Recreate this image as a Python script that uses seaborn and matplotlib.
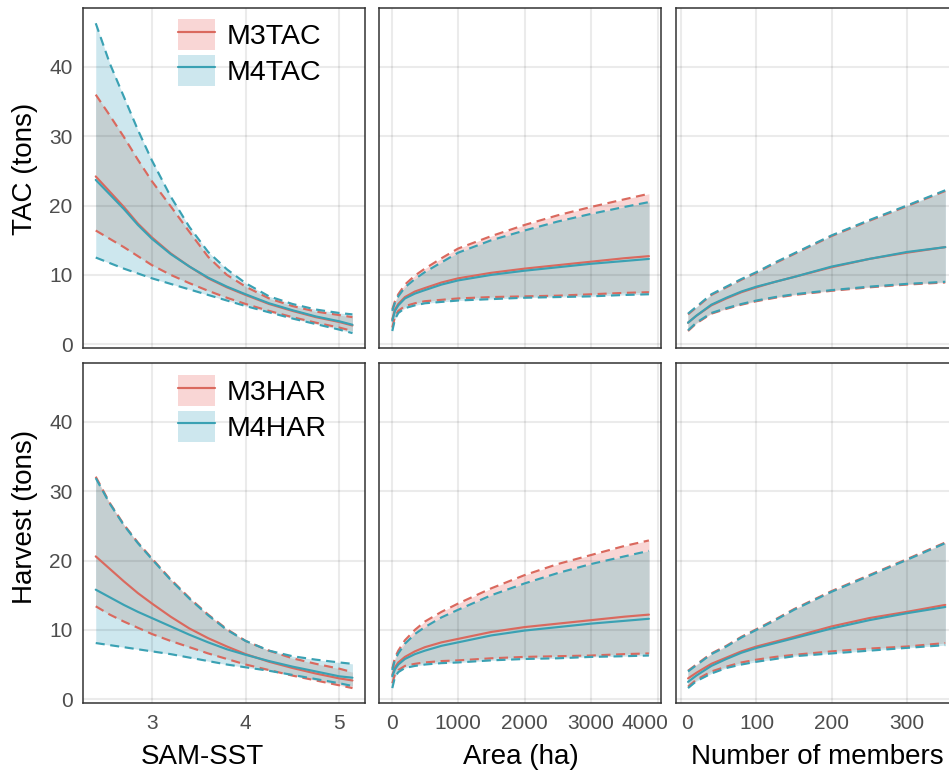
import numpy as np
import pandas as pd
import matplotlib
matplotlib.use("Agg")
import matplotlib.pyplot as plt
import matplotlib.transforms as mtransforms
import seaborn as sns
from matplotlib.patches import Patch
from matplotlib.lines import Line2D
from matplotlib.legend_handler import HandlerTuple

sns.set_theme(style="white")
plt.rcParams['font.family'] = ['Liberation Sans', 'DejaVu Sans']

# ---------------- data ----------------
sst_x = [2.40, 2.55, 2.70, 2.85, 3.00, 3.20, 3.40, 3.60, 3.80, 4.00, 4.25, 4.50, 4.75, 5.00, 5.14]
area_x = [10, 50, 100, 200, 350, 500, 750, 1000, 1500, 2000, 2500, 3000, 3500, 3870]
memb_x = [9, 20, 40, 60, 80, 100, 125, 150, 200, 250, 300, 351]

# TAC vs SAM-SST
tac_sst_m3_mean = [24.2, 22.0, 19.8, 17.4, 15.4, 13.1, 11.2, 9.5, 8.2, 7.1, 5.8, 4.8, 3.9, 3.2, 2.7]
tac_sst_m3_lo = [16.4, 15.2, 14.0, 12.7, 11.4, 10.0, 8.8, 7.7, 6.7, 5.8, 4.8, 3.9, 3.1, 2.4, 1.9]
tac_sst_m3_hi = [36.0, 33.0, 29.9, 26.6, 23.5, 19.9, 16.2, 12.6, 10.0, 8.3, 6.6, 5.5, 4.7, 4.2, 3.9]
tac_sst_m4_mean = [23.7, 21.6, 19.5, 17.2, 15.2, 13.0, 11.2, 9.6, 8.3, 7.2, 5.9, 4.9, 4.0, 3.3, 2.8]
tac_sst_m4_lo = [12.5, 11.7, 10.9, 10.2, 9.5, 8.7, 7.9, 7.1, 6.3, 5.5, 4.6, 3.7, 2.9, 2.1, 1.6]
tac_sst_m4_hi = [46.3, 40.5, 35.7, 30.9, 26.5, 21.3, 16.9, 13.3, 10.8, 8.8, 6.9, 5.8, 5.0, 4.5, 4.3]

# Harvest vs SAM-SST
har_sst_m3_mean = [20.6, 18.8, 17.0, 15.3, 13.8, 11.9, 10.2, 8.8, 7.6, 6.5, 5.4, 4.5, 3.7, 3.0, 2.7]
har_sst_m3_lo = [13.4, 12.2, 11.2, 10.3, 9.4, 8.4, 7.5, 6.6, 5.8, 5.0, 4.2, 3.4, 2.7, 2.0, 1.6]
har_sst_m3_hi = [32.1, 28.3, 25.2, 22.6, 20.3, 17.3, 14.6, 12.2, 10.1, 8.4, 7.0, 5.9, 5.1, 4.4, 3.9]
har_sst_m4_mean = [15.8, 14.7, 13.6, 12.6, 11.7, 10.5, 9.3, 8.2, 7.2, 6.4, 5.5, 4.7, 4.0, 3.3, 3.1]
har_sst_m4_lo = [8.1, 7.8, 7.5, 7.2, 6.9, 6.5, 6.0, 5.5, 5.0, 4.6, 4.1, 3.5, 2.9, 2.3, 1.9]
har_sst_m4_hi = [31.9, 28.2, 25.1, 22.5, 20.2, 17.2, 14.5, 12.1, 10.0, 8.4, 7.0, 6.2, 5.7, 5.3, 5.1]

# TAC vs Area
tac_area_m3_mean = [3.6, 5.0, 5.8, 6.8, 7.6, 8.1, 8.9, 9.5, 10.3, 10.9, 11.4, 11.9, 12.4, 12.7]
tac_area_m3_lo = [2.4, 4.0, 4.8, 5.5, 5.9, 6.2, 6.4, 6.6, 6.8, 6.9, 7.0, 7.2, 7.4, 7.5]
tac_area_m3_hi = [5.0, 6.2, 7.2, 8.6, 9.9, 10.9, 12.4, 13.8, 15.6, 17.2, 18.6, 19.8, 20.9, 21.7]
tac_area_m4_mean = [3.4, 4.8, 5.6, 6.6, 7.3, 7.8, 8.6, 9.2, 10.0, 10.6, 11.1, 11.6, 12.0, 12.3]
tac_area_m4_lo = [1.9, 3.6, 4.5, 5.2, 5.6, 5.9, 6.1, 6.3, 6.5, 6.7, 6.8, 6.9, 7.1, 7.2]
tac_area_m4_hi = [4.8, 6.0, 6.9, 8.2, 9.4, 10.4, 11.8, 13.2, 15.0, 16.4, 17.7, 18.8, 19.8, 20.5]

# Harvest vs Area
har_area_m3_mean = [3.5, 4.6, 5.3, 6.1, 6.9, 7.5, 8.2, 8.7, 9.7, 10.4, 10.9, 11.4, 11.9, 12.2]
har_area_m3_lo = [2.3, 3.6, 4.2, 4.8, 5.1, 5.3, 5.5, 5.6, 5.9, 6.1, 6.2, 6.3, 6.5, 6.6]
har_area_m3_hi = [4.4, 6.0, 7.0, 8.5, 10.0, 11.2, 12.6, 13.8, 16.0, 17.9, 19.5, 20.8, 22.1, 22.9]
har_area_m4_mean = [3.3, 4.3, 5.0, 5.8, 6.5, 7.0, 7.7, 8.2, 9.2, 9.9, 10.4, 10.9, 11.3, 11.6]
har_area_m4_lo = [1.6, 3.2, 3.9, 4.5, 4.8, 5.0, 5.2, 5.3, 5.6, 5.8, 5.9, 6.1, 6.2, 6.3]
har_area_m4_hi = [4.2, 5.7, 6.6, 8.0, 9.4, 10.4, 11.8, 12.9, 15.0, 16.7, 18.2, 19.5, 20.6, 21.4]

# TAC vs Number of members
tac_memb_m3_mean = [3.1, 4.1, 5.6, 6.6, 7.5, 8.2, 9.0, 9.7, 11.1, 12.3, 13.2, 14.0]
tac_memb_m3_lo = [1.9, 3.0, 4.4, 5.1, 5.7, 6.2, 6.7, 7.1, 7.7, 8.2, 8.6, 8.9]
tac_memb_m3_hi = [4.3, 5.3, 7.1, 8.2, 9.3, 10.3, 11.7, 13.0, 15.6, 17.8, 19.9, 22.1]
tac_memb_m4_mean = [3.1, 4.1, 5.7, 6.7, 7.6, 8.3, 9.0, 9.7, 11.2, 12.3, 13.3, 14.0]
tac_memb_m4_lo = [2.0, 3.1, 4.5, 5.2, 5.8, 6.3, 6.8, 7.2, 7.8, 8.3, 8.7, 9.0]
tac_memb_m4_hi = [4.4, 5.4, 7.2, 8.3, 9.4, 10.4, 11.8, 13.1, 15.7, 17.9, 20.0, 22.2]

# Harvest vs Number of members
har_memb_m3_mean = [3.0, 3.8, 5.1, 6.0, 6.9, 7.6, 8.3, 9.0, 10.5, 11.7, 12.6, 13.6]
har_memb_m3_lo = [1.8, 2.8, 4.0, 4.7, 5.3, 5.7, 6.1, 6.4, 6.9, 7.3, 7.6, 8.1]
har_memb_m3_hi = [4.1, 5.0, 6.6, 7.7, 9.0, 10.1, 11.5, 13.0, 15.6, 17.9, 20.2, 22.6]
har_memb_m4_mean = [2.5, 3.4, 4.8, 5.8, 6.7, 7.4, 8.1, 8.8, 10.2, 11.4, 12.4, 13.3]
har_memb_m4_lo = [1.6, 2.6, 3.7, 4.5, 5.0, 5.4, 5.8, 6.2, 6.6, 7.0, 7.4, 7.8]
har_memb_m4_hi = [4.0, 4.9, 6.5, 7.6, 8.9, 10.0, 11.4, 12.9, 15.5, 17.8, 20.1, 22.5]

row_labels = ["TAC (tons)", "Harvest (tons)"]
col_labels = ["SAM-SST", "Area (ha)", "Number of members"]
legend_labels = [["M3TAC", "M4TAC"], ["M3HAR", "M4HAR"]]
y_ticks = [0, 10, 20, 30, 40]
x_ticks = [[3, 4, 5], [0, 1000, 2000, 3000, 4000], [0, 100, 200, 300]]
x_limits = [(2.264, 5.274), (-190, 4052), (-7, 368)]
y_limits = (-0.55, 48.5)

# ---------------- styling ----------------
RED_LINE, BLUE_LINE = "#DA695E", "#3AA1B3"
RED_FILL, BLUE_FILL, BOTH_FILL = "#F9D6D5", "#CDE7EE", "#C4CFD1"
DARK = "#333333"
DASH = (0, (4.2, 2.6))
LW = 1.55

panels = [
    [(sst_x, tac_sst_m3_mean, tac_sst_m3_lo, tac_sst_m3_hi, tac_sst_m4_mean, tac_sst_m4_lo, tac_sst_m4_hi),
     (area_x, tac_area_m3_mean, tac_area_m3_lo, tac_area_m3_hi, tac_area_m4_mean, tac_area_m4_lo, tac_area_m4_hi),
     (memb_x, tac_memb_m3_mean, tac_memb_m3_lo, tac_memb_m3_hi, tac_memb_m4_mean, tac_memb_m4_lo, tac_memb_m4_hi)],
    [(sst_x, har_sst_m3_mean, har_sst_m3_lo, har_sst_m3_hi, har_sst_m4_mean, har_sst_m4_lo, har_sst_m4_hi),
     (area_x, har_area_m3_mean, har_area_m3_lo, har_area_m3_hi, har_area_m4_mean, har_area_m4_lo, har_area_m4_hi),
     (memb_x, har_memb_m3_mean, har_memb_m3_lo, har_memb_m3_hi, har_memb_m4_mean, har_memb_m4_lo, har_memb_m4_hi)],
]

W, H = 949, 774
fig = plt.figure(figsize=(W / 100, H / 100), dpi=100)
fig.patch.set_facecolor("white")

col_left = [83, 379, 676]
col_w = 282
row_top = [8, 363]
row_h = 340

for r in range(2):
    for c in range(3):
        l, t = col_left[c], row_top[r]
        ax = fig.add_axes([l / W, 1 - (t + row_h) / H, col_w / W, row_h / H])
        ax.set_facecolor("white")
        x, m3, l3, h3, m4, l4, h4 = [np.asarray(a, dtype=float) for a in panels[r][c]]

        ax.fill_between(x, l3, h3, color=RED_FILL, lw=0, zorder=1)
        ax.fill_between(x, l4, h4, color=BLUE_FILL, lw=0, zorder=1)
        lo = np.maximum(l3, l4)
        hi = np.minimum(h3, h4)
        ax.fill_between(x, lo, hi, where=hi > lo, interpolate=True, color=BOTH_FILL, lw=0, zorder=1.1)

        for mean, low, high, col in ((m3, l3, h3, RED_LINE), (m4, l4, h4, BLUE_LINE)):
            df = pd.DataFrame({"x": x, "mean": mean, "lo": low, "hi": high})
            sns.lineplot(data=df, x="x", y="mean", color=col, lw=LW, ax=ax, zorder=2)
            sns.lineplot(data=df, x="x", y="lo", color=col, lw=LW, ls=DASH, ax=ax, zorder=2)
            sns.lineplot(data=df, x="x", y="hi", color=col, lw=LW, ls=DASH, ax=ax, zorder=2)

        ax.set_xlim(*x_limits[c])
        ax.set_ylim(*y_limits)
        ax.set_xticks(x_ticks[c])
        ax.set_yticks(y_ticks)
        ax.set_xlabel("")
        ax.set_ylabel("")
        ax.set_axisbelow("line")
        ax.grid(True, color="black", alpha=0.08, lw=1.5)
        for s in ax.spines.values():
            s.set_color(DARK)
            s.set_linewidth(1.1)
            s.set_zorder(3)
        ax.tick_params(axis="both", colors=DARK, labelcolor="#4D4D4D", labelsize=15,
                       length=5.5, width=1.1, direction="out")
        ax.tick_params(axis="x", pad=2.5)
        ax.tick_params(axis="y", pad=2.0)
        if r == 0:
            ax.tick_params(axis="x", bottom=False, labelbottom=False)
        if c > 0:
            ax.tick_params(axis="y", left=False, labelleft=False)

        # edge tick labels nudged as in the reference
        if r == 1 and c == 1:
            lab = ax.xaxis.get_major_ticks()[-1].label1
            lab.set_transform(lab.get_transform() + mtransforms.ScaledTranslation(-12.5 / 100, 0, fig.dpi_scale_trans))
        if r == 1 and c == 2:
            lab = ax.xaxis.get_major_ticks()[0].label1
            lab.set_transform(lab.get_transform() + mtransforms.ScaledTranslation(5.5 / 100, 0, fig.dpi_scale_trans))

        if c == 0:
            handles = [(Patch(facecolor=RED_FILL, edgecolor="none"), Line2D([], [], color=RED_LINE, lw=LW)),
                       (Patch(facecolor=BLUE_FILL, edgecolor="none"), Line2D([], [], color=BLUE_LINE, lw=LW))]
            top_px = 19 if r == 0 else 375
            leg = ax.legend(handles, legend_labels[r], handler_map={tuple: HandlerTuple(ndivide=1, pad=0)},
                            loc="upper left", bbox_to_anchor=((178 - 83) / col_w, (t + row_h - top_px) / row_h),
                            frameon=False, fontsize=20.5, handlelength=1.3, handleheight=1.3,
                            labelspacing=0.17, handletextpad=0.4, borderpad=0, borderaxespad=0)
            for tx in leg.get_texts():
                tx.set_color("black")

# axis titles
fig.text(25 / W, 1 - 169 / H, row_labels[0], rotation=90, ha="center", va="center", fontsize=20, color="black")
fig.text(25 / W, 1 - 517 / H, row_labels[1], rotation=90, ha="center", va="center", fontsize=20, color="black")
for cx, lab in zip([202, 521, 817], col_labels):
    fig.text(cx / W, 1 - 764 / H, lab, ha="center", va="baseline", fontsize=20, color="black")

fig.savefig("out.png", dpi=100, facecolor="white")
